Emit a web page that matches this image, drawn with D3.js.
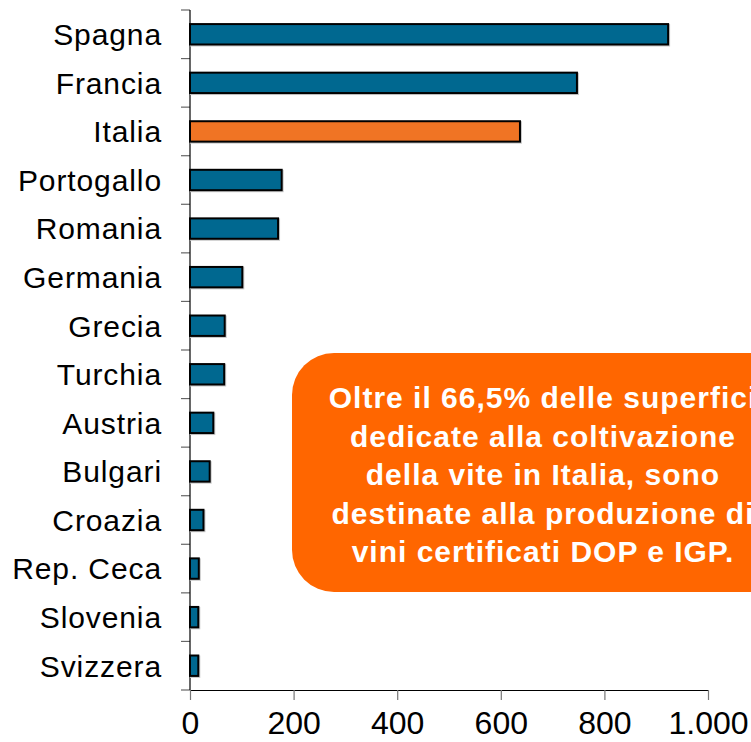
<!doctype html>
<html>
  <head>
    <script src="https://cdn.jsdelivr.net/npm/d3@7"></script>
    <style>
      body { margin: 0; background: #fff; }
      text { font-family: "Liberation Sans", Arial, sans-serif; }
    </style>
  </head>
  <body>
    <script>
        var paesi = ["Spagna", "Francia", "Italia", "Portogallo", "Romania", "Germania", "Grecia",
                     "Turchia", "Austria", "Bulgari", "Croazia", "Rep. Ceca", "Slovenia", "Svizzera"];
        var superfici = [923, 747, 637, 177, 170, 101, 67, 66, 45, 38, 26, 17, 16, 16];
        var xTicks = [0, 200, 400, 600, 800, 1000];
        var nota = ["Oltre il 66,5% delle superfici",
                    "dedicate alla coltivazione",
                    "della vite in Italia, sono",
                    "destinate alla produzione di",
                    "vini certificati DOP e IGP."];

        var data = paesi.map((p, i) => ({name: p, value: superfici[i]}));

        var width = 751, height = 742;
        var margin = {top: 10, left: 190, bottom: 52, right: 43};

        var svg = d3.select("body").append("svg")
            .attr("width", width)
            .attr("height", height);

        var x = d3.scaleLinear()
            .domain([0, 1000])
            .range([margin.left, width - margin.right]);

        var y = d3.scaleBand()
            .domain(paesi)
            .range([margin.top, height - margin.bottom])
            .paddingInner(0.58)
            .paddingOuter(0.29);

        var it = d3.formatLocale({decimal: ",", thousands: ".", grouping: [3], currency: ["€", ""]});

        // category ticks on the left of the y axis
        var bounds = d3.range(paesi.length + 1).map(i => margin.top + i * y.step());
        svg.selectAll(".ytick").data(bounds).enter().append("line")
            .attr("x1", margin.left - 9).attr("x2", margin.left)
            .attr("y1", d => d).attr("y2", d => d)
            .attr("stroke", "#666").attr("stroke-width", 1.2);

        svg.append("line")
            .attr("x1", margin.left).attr("x2", margin.left)
            .attr("y1", margin.top).attr("y2", height - margin.bottom)
            .attr("stroke", "#000").attr("stroke-width", 1.2);

        // x axis
        var xAxis = svg.append("g")
            .attr("transform", `translate(0,${height - margin.bottom})`)
            .call(d3.axisBottom(x).tickValues(xTicks).tickSize(10).tickSizeOuter(0)
                .tickFormat(it.format(",")));
        xAxis.select(".domain").attr("stroke", "#000").attr("stroke-width", 1.2);
        xAxis.selectAll(".tick line").attr("stroke", "#777").attr("stroke-width", 1.2);
        xAxis.selectAll(".tick text")
            .attr("y", 21).attr("dy", "0.71em")
            .attr("font-size", 32).attr("fill", "#000");

        // category labels
        svg.selectAll(".lab").data(data).enter().append("text")
            .attr("x", margin.left - 28)
            .attr("y", d => y(d.name) + y.bandwidth() / 2)
            .attr("dy", "0.36em")
            .attr("text-anchor", "end")
            .attr("font-size", 30)
            .attr("letter-spacing", 0.9)
            .text(d => d.name);

        // bars with a soft shadow
        svg.selectAll(".shadow").data(data).enter().append("rect")
            .attr("x", x(0) + 1)
            .attr("y", d => y(d.name) + 1)
            .attr("width", d => x(d.value) - x(0))
            .attr("height", y.bandwidth())
            .attr("fill", "none")
            .attr("stroke", "#c8c8c8")
            .attr("stroke-width", 2);

        svg.selectAll(".bar").data(data).enter().append("rect")
            .attr("x", x(0))
            .attr("y", d => y(d.name))
            .attr("width", d => x(d.value) - x(0))
            .attr("height", y.bandwidth())
            .attr("fill", d => d.name === "Italia" ? "#f07424" : "#006890")
            .attr("stroke", "#000")
            .attr("stroke-width", 2);

        // callout
        svg.append("rect")
            .attr("x", 292).attr("y", 353)
            .attr("width", 502).attr("height", 239)
            .attr("rx", 42).attr("ry", 42)
            .attr("fill", "#ff6600");

        svg.selectAll(".nota").data(nota).enter().append("text")
            .attr("x", 543)
            .attr("y", (d, i) => 408 + i * 38.5)
            .attr("text-anchor", "middle")
            .attr("font-size", 30)
            .attr("letter-spacing", 1)
            .attr("font-weight", "bold")
            .attr("fill", "#fff")
            .text(d => d);
    </script>
  </body>
</html>
